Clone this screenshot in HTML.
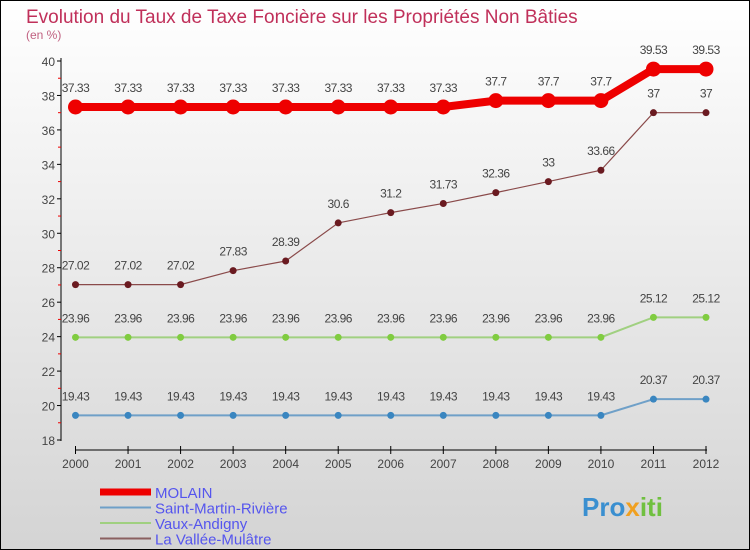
<!DOCTYPE html>
<html><head><meta charset="utf-8"><style>
html,body{margin:0;padding:0}
body{width:750px;height:550px;overflow:hidden;font-family:"Liberation Sans",sans-serif}
svg{display:block}
</style></head><body>
<svg width="750" height="550" id="c">
<defs><linearGradient id="bg" x1="0" y1="0" x2="0" y2="1"><stop offset="0" stop-color="#ffffff"/><stop offset="1" stop-color="#d4d4d4"/></linearGradient></defs>
<rect x="0.5" y="0.5" width="749" height="549" fill="url(#bg)" stroke="#000"/>
<text x="26" y="23" font-size="19" fill="#c0305a">Evolution du Taux de Taxe Foncière sur les Propriétés Non Bâties</text>
<text x="26" y="39" font-size="12" fill="#c06080">(en %)</text>
<g id="axes"></g><g id="series"></g><g id="legend"></g>
<text x="582" y="516" font-size="26" font-weight="bold" fill="#3a8fd0">Pro<tspan fill="#f0a020">x</tspan><tspan fill="#70c040">iti</tspan></text>
</svg>
<script>
const years=[2000,2001,2002,2003,2004,2005,2006,2007,2008,2009,2010,2011,2012];
const yTicks=[18,20,22,24,26,28,30,32,34,36,38,40];
const molain=[37.33,37.33,37.33,37.33,37.33,37.33,37.33,37.33,37.7,37.7,37.7,39.53,39.53];
const smr=[19.43,19.43,19.43,19.43,19.43,19.43,19.43,19.43,19.43,19.43,19.43,20.37,20.37];
const vaux=[23.96,23.96,23.96,23.96,23.96,23.96,23.96,23.96,23.96,23.96,23.96,25.12,25.12];
const lvm=[27.02,27.02,27.02,27.83,28.39,30.6,31.2,31.73,32.36,33,33.66,37,37];
const NS="http://www.w3.org/2000/svg";
const X=i=>75.5+i*(706-75.5)/(years.length-1);
const Y=v=>440-(v-18)*(440-61)/22;
function mk(t,a,p){const e=document.createElementNS(NS,t);for(const k in a)e.setAttribute(k,a[k]);p.appendChild(e);return e;}
const ax=document.getElementById('axes');
let l=mk('line',{x1:61,y1:58,x2:61,y2:441,stroke:'#000'},ax);


yTicks.forEach(v=>{
 mk('line',{x1:57,y1:Y(v),x2:61,y2:Y(v),stroke:'#000'},ax);
 const t=mk('text',{x:55,y:Y(v)+5,'font-size':12,fill:'#444','text-anchor':'end'},ax);t.textContent=v;
 
 
 if(v<40)mk('line',{x1:58,y1:Y(v+1),x2:61,y2:Y(v+1),stroke:'#e00'},ax);
});
l=mk('line',{x1:75,y1:450,x2:707,y2:450,stroke:'#000'},ax);


years.forEach((y,i)=>{
 mk('line',{x1:X(i),y1:446,x2:X(i),y2:454,stroke:'#000'},ax);
 const t=mk('text',{x:X(i),y:468,'font-size':12,fill:'#444','text-anchor':'middle'},ax);t.textContent=y;
 
 
});
const sg=document.getElementById('series');
function series(d,col,w,r,dot,name){
 const g=mk('g',{},sg);
 
 
 mk('polyline',{points:d.map((v,i)=>X(i)+','+Y(v)).join(' '),fill:'none',stroke:col,'stroke-width':w},g);
 d.forEach((v,i)=>{
  const c=mk('circle',{cx:X(i),cy:Y(v),r:r,fill:dot},g);
  
  
  const t=mk('text',{x:X(i),y:Y(v)-15,'font-size':12,fill:'#444','text-anchor':'middle','letter-spacing':'-0.5'},g);t.textContent=v;
  
  
 });
}
series(smr,'#6fa0c8',2,3.5,'#3a86c0','series-saint-martin-riviere');
series(vaux,'#a0d080',2,3.5,'#80cc40','series-vaux-andigny');
series(lvm,'#8a4a4a',1.2,3.5,'#6a1a20','series-la-vallee-mulatre');
series(molain,'#ee0000',8,7.5,'#ee0000','series-molain');
const lg=document.getElementById('legend');
[['MOLAIN','#ee0000',7],['Saint-Martin-Rivière','#6fa0c8',2],['Vaux-Andigny','#a0d080',2],['La Vallée-Mulâtre','#8a6060',2]].forEach((e,i)=>{
 const g=mk('g',{},lg);
 
 
 const y=492+i*15.5;
 mk('line',{x1:100,y1:y,x2:151,y2:y,stroke:e[1],'stroke-width':e[2]},g);
 const t=mk('text',{x:155,y:y+6,'font-size':15,fill:'#5555ee'},g);t.textContent=e[0];
});
</script>
</body></html>
